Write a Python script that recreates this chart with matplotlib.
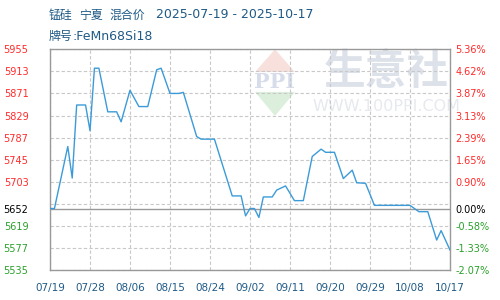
import matplotlib
matplotlib.use("Agg")
import matplotlib.pyplot as plt
import numpy as np
import pandas as pd

# price data: day offset from 2025-07-19, price (yuan/t)
start_date = "2025-07-19"
day_offsets = [0, 1, 4, 5, 6, 8, 9, 10, 11, 13, 15, 16, 18, 20, 22, 24, 25, 27, 29, 30,
               33, 34, 37, 41, 43, 44, 45, 46, 47, 48, 50, 51, 53, 55, 57, 59, 61, 62,
               64, 66, 68, 69, 71, 73, 81, 83, 85, 87, 88, 90]
prices = [5652, 5652, 5770, 5710, 5849, 5849, 5800, 5919, 5919, 5836, 5836, 5817, 5877,
          5846, 5846, 5916, 5919, 5871, 5871, 5873, 5789, 5784, 5784, 5676, 5676, 5638,
          5652, 5652, 5635, 5674, 5674, 5687, 5695, 5667, 5667, 5751, 5765, 5759, 5759,
          5709, 5725, 5701, 5700, 5658, 5658, 5646, 5646, 5592, 5610, 5573]

base_price = 5652
y_ticks = [5955, 5913, 5871, 5829, 5787, 5745, 5703, 5652, 5619, 5577, 5535]
pct_labels = ["5.36%", "4.62%", "3.87%", "3.13%", "2.39%", "1.65%", "0.90%",
              "0.00%", "-0.58%", "-1.33%", "-2.07%"]
x_labels = ["07/19", "07/28", "08/06", "08/15", "08/24", "09/02",
            "09/11", "09/20", "09/29", "10/08", "10/17"]

title_words = ["锰硅", "宁夏", "混合价"]
title_dates = "2025-07-19 - 2025-10-17"
grade_label = "牌号"
grade_value = ":FeMn68Si18"

TXT = "#1f5a86"
UP, FLAT, DOWN = "#ff2a2a", "#000000", "#2aa02a"


def label_color(v):
    if v > base_price:
        return UP
    if v == base_price:
        return FLAT
    return DOWN


dates = pd.Timestamp(start_date) + pd.to_timedelta(day_offsets, unit="D")
x = (dates - pd.Timestamp(start_date)).days.values

fig = plt.figure(figsize=(5, 3), dpi=100)
ax = fig.add_axes([0.1, 0.1, 0.8, 0.7357])

ymin, ymax = 5535, 5955
ax.set_xlim(0, 90)
ax.set_ylim(ymin, ymax)

# dashed grid
for g in np.arange(ymin, ymax + 1, 42):
    ax.axhline(g, color="#c8c8c8", lw=0.8, ls=(0, (3, 2)), zorder=1)
for xv in range(0, 91, 9):
    ax.axvline(xv, color="#c8c8c8", lw=0.8, ls=(0, (3, 2)), zorder=1)
ax.axhline(base_price, color="#999999", lw=1.0, zorder=2)

# watermark
ax.text(0.84, 0.897, "生意社", transform=ax.transAxes, ha="center", va="center",
        fontsize=30, color="#dde2ea", family=["Noto Sans CJK SC"], zorder=0,
        fontweight="bold")
ax.text(0.84, 0.743, "WWW.100PPI.COM", transform=ax.transAxes, ha="center",
        va="center", fontsize=11.5, color="#e6e9ee", family=["DejaVu Sans"], zorder=0)
cx = 0.5625
diamond_top = plt.Polygon([[cx, 1.0], [cx + 0.05, 0.897], [cx - 0.05, 0.897]],
                          closed=True, transform=ax.transAxes, color="#f8e0dc",
                          zorder=0, lw=0)
diamond_bot = plt.Polygon([[cx - 0.05, 0.807], [cx + 0.05, 0.807], [cx, 0.698]],
                          closed=True, transform=ax.transAxes, color="#dcefdc",
                          zorder=0, lw=0)
ax.add_patch(diamond_top)
ax.add_patch(diamond_bot)
ax.text(cx, 0.852, "PPI", transform=ax.transAxes, ha="center", va="center",
        fontsize=15, color="#d6dcea", family=["DejaVu Serif"], fontweight="bold",
        zorder=0)

ax.plot(x, prices, color="#3b9bd8", lw=1.0, zorder=3)

for s in ax.spines.values():
    s.set_color("#999999")
    s.set_linewidth(1.0)

# left axis labels
ax.set_yticks(y_ticks)
ax.set_yticklabels([str(v) for v in y_ticks], fontsize=7, family="DejaVu Sans")
ax.tick_params(axis="y", length=0, pad=15.5)
for lab, v in zip(ax.get_yticklabels(), y_ticks):
    lab.set_color(label_color(v))

# right axis labels
ax2 = ax.twinx()
ax2.set_ylim(ymin, ymax)
ax2.set_yticks(y_ticks)
ax2.set_yticklabels(pct_labels, fontsize=7, family="DejaVu Sans")
ax2.tick_params(axis="y", length=0, pad=4)
for lab, v in zip(ax2.get_yticklabels(), y_ticks):
    lab.set_color(label_color(v))
for s in ax2.spines.values():
    s.set_visible(False)

ax.set_xticks(range(0, 91, 9))
ax.set_xticklabels(x_labels, fontsize=7.5, color=TXT, family="DejaVu Sans")
ax.tick_params(axis="x", length=0, pad=9)

# header lines
y1 = 1 - 15 / 300
y2 = 1 - 36 / 300
for word, px in zip(title_words, [49, 79, 109]):
    fig.text(px / 500, y1, word, fontsize=8.6, color=TXT,
             family=["Noto Sans CJK SC"], va="center", ha="left")
fig.text(156 / 500, y1, title_dates, fontsize=9, color=TXT,
         family=["DejaVu Sans"], va="center", ha="left")
fig.text(49 / 500, y2, grade_label, fontsize=8.6, color=TXT,
         family=["Noto Sans CJK SC"], va="center", ha="left")
fig.text(72 / 500, y2, grade_value, fontsize=9, color=TXT,
         family=["DejaVu Sans"], va="center", ha="left")

fig.savefig("out.png", dpi=100)
